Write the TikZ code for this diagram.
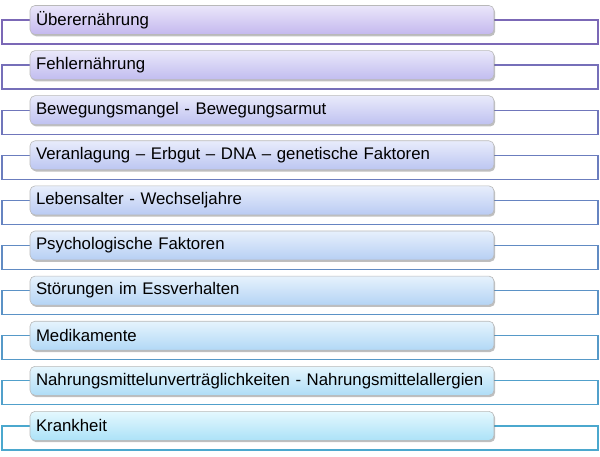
\documentclass[tikz,border=0pt]{standalone}
\usepackage{fontspec}
\setmainfont{Liberation Sans}
\usetikzlibrary{shadows,backgrounds}
\definecolor{linetop}{HTML}{7B68B6}
\definecolor{linebot}{HTML}{4BA8CE}
\definecolor{filltopA}{HTML}{EAE6FA}
\definecolor{fillbotA}{HTML}{C4B8EE}
\definecolor{filltopB}{HTML}{E4F8FE}
\definecolor{fillbotB}{HTML}{ACE2F8}
\tikzset{
  item/.style={rounded corners=5pt, draw=gray!55, line width=.6pt,
    minimum width=464pt, minimum height=29pt, text width=452pt,
    align=left, inner sep=0pt, font=\fontsize{16.8}{19}\selectfont,
    drop shadow={shadow xshift=1.2pt, shadow yshift=-1.8pt, fill=black, opacity=.25}},
  frame/.style={line width=1.2pt},
}
\begin{document}
\begin{tikzpicture}[x=1pt,y=1pt]
\useasboundingbox (0,0) rectangle (600,-457);
\foreach \i/\txt in {1/Überernährung,2/Fehlernährung,
    3/Bewegungsmangel - Bewegungsarmut,
    4/Veranlagung – Erbgut – DNA – genetische Faktoren,
    5/Lebensalter - Wechseljahre,6/Psychologische Faktoren,
    7/Störungen im Essverhalten,8/Medikamente,
    9/Nahrungsmittelunverträglichkeiten - Nahrungsmittelallergien,
    10/Krankheit} {
  \pgfmathtruncatemacro\p{(\i-1)*100/9}
  \pgfmathsetmacro\y{-20-45.1*(\i-1)}
  \node[item, top color=filltopB!\p!filltopA, bottom color=fillbotB!\p!fillbotA]
    (b\i) at (262,\y) {\txt};
  \coordinate (l\i) at (2,\y-24);
  \coordinate (r\i) at (598,\y-24);
  \begin{scope}[on background layer]
    \draw[frame, draw=linebot!\p!linetop] (b\i.west) -| (l\i) -- (r\i) |- (b\i.east);
  \end{scope}
}
\end{tikzpicture}
\end{document}
